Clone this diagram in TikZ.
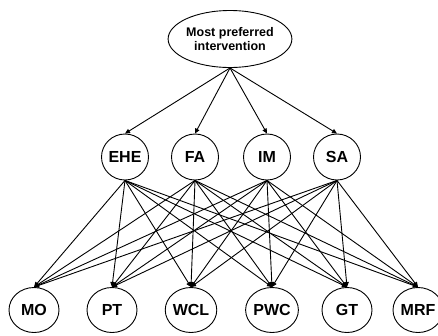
\documentclass[tikz,border=0pt]{standalone}
\usepackage{fontspec}
\setmainfont{Liberation Sans}
\usetikzlibrary{arrows.meta, shapes.geometric}

\begin{document}
\begin{tikzpicture}[>={Triangle[length=5pt,width=4.5pt]},x=1pt,y=-1pt,
  crit/.style={draw,ellipse,line width=0.9pt,inner sep=0pt,
    minimum width=47pt,minimum height=46pt,font=\bfseries\fontsize{16}{18}\selectfont},
  alt/.style={crit,minimum width=50pt,minimum height=45pt},
  goal/.style={draw,ellipse,line width=0.9pt,inner sep=0pt,align=center,
    minimum width=113pt,minimum height=57pt,font=\bfseries\fontsize{12.5}{14.5}\selectfont},
  link/.style={->,line width=0.9pt}]

\useasboundingbox (0,0) rectangle (438,335);

% Ziel
\node[goal] (goal) at (230,39) {Most preferred\\intervention};

% Kriterien
\node[crit] (EHE) at (125,157) {EHE};
\node[crit] (FA)  at (195,157) {FA};
\node[crit] (IM)  at (267,157) {IM};
\node[crit] (SA)  at (337,157) {SA};

% Alternativen
\node[alt] (MO)  at (34,310)  {MO};
\node[alt] (PT)  at (112,310) {PT};
\node[alt] (WCL) at (191,310) {WCL};
\node[alt] (PWC) at (272,310) {PWC};
\node[alt] (GT)  at (347,310) {GT};
\node[alt] (MRF) at (418,310) {MRF};

% Verbindungen
\foreach \c in {EHE,FA,IM,SA}{
  \draw[link] (goal.south) -- (\c.north);
  \foreach \a in {MO,PT,WCL,PWC,GT,MRF}
    \draw[link] (\c.south) -- (\a.north);
}

\end{tikzpicture}
\end{document}
